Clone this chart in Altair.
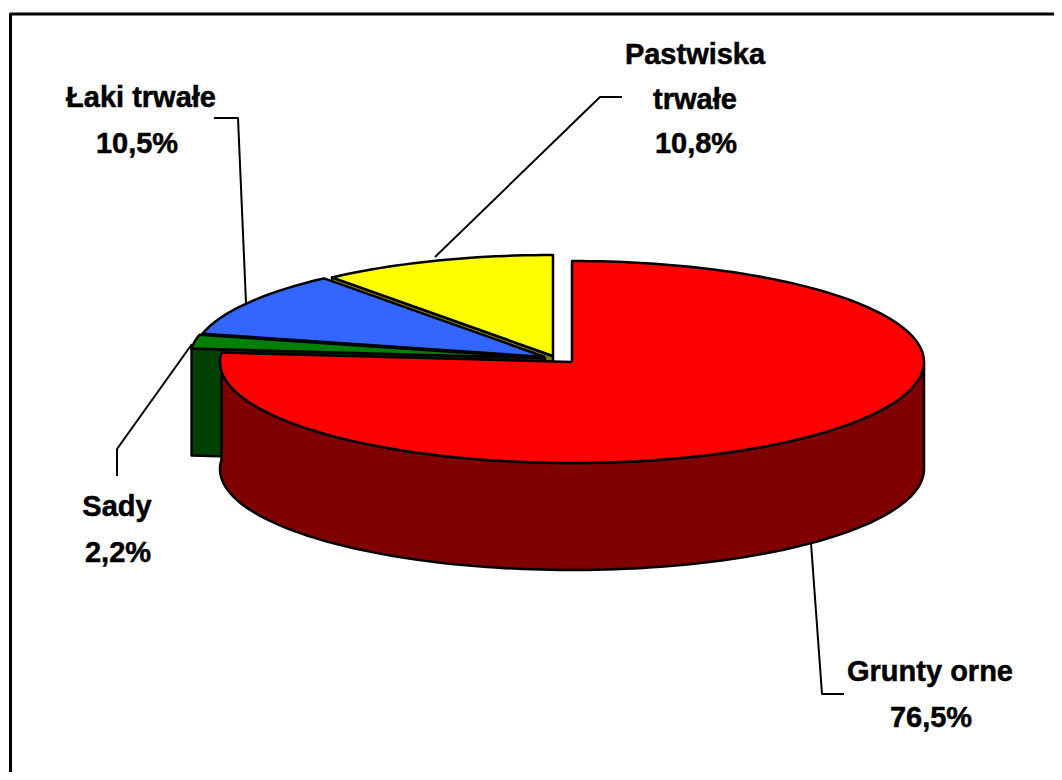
import math
import altair as alt
import pandas as pd

# --- chart values ---
categories = ["Grunty orne", "Sady", "Łaki trwałe", "Pastwiska trwałe"]
shares = [76.5, 2.2, 10.5, 10.8]
top_colors = ["#ff0000", "#008000", "#3366ff", "#ffff00"]
side_colors = ["#800000", "#004000", "#1a3380", "#808000"]
label_lines = [["Grunty orne", "76,5%"], ["Sady", "2,2%"], ["Łaki trwałe", "10,5%"],
               ["Pastwiska", "trwałe", "10,8%"]]

# --- layout ---
X0, Y0, W, H = 8, 8, 1046, 764
RX, RY, DEPTH = 352, 101, 107
centers = [(572, 362), (542, 358), (545, 357), (553, 356)]
label_pos = [
    [(930, 672), (931, 718)],
    [(117, 507), (118, 553)],
    [(141, 98), (137, 144)],
    [(695, 55), (695, 100), (696, 144)],
]
leaders = [
    [(811, 543), (822, 694), (844, 694)],
    [(117, 476), (117, 449), (192, 344)],
    [(214, 118), (238, 118), (246, 303)],
    [(435, 257), (600, 97), (622, 97)],
]
frame = [(10.5, 772), (10.5, 14), (1054, 14)]
FONT = "Liberation Sans"
FONT_SIZE = 29

xs = alt.X("x:Q", scale=alt.Scale(domain=[X0, X0 + W]), axis=None)
ys = alt.Y("y:Q", scale=alt.Scale(domain=[Y0 + H, Y0]), axis=None)


def poly(points, fill=None, sw=2.5):
    df = pd.DataFrame([{"x": p[0], "y": p[1], "i": i} for i, p in enumerate(points)])
    kw = dict(stroke="black", strokeWidth=sw, strokeJoin="round", clip=False, interpolate="linear")
    if fill:
        kw["fill"] = fill
    return alt.Chart(df).mark_line(**kw).encode(x=xs, y=ys, order=alt.Order("i:Q"))


def arc(c, a0, a1, dy=0):
    n = max(2, int(abs(a1 - a0) / 1.5))
    out = []
    for k in range(n + 1):
        a = math.radians(a0 + (a1 - a0) * k / n)
        out.append((c[0] + RX * math.sin(a), c[1] - RY * math.cos(a) + dy))
    return out


layers = []
cum = 0
spans = []
for s in shares:
    spans.append((cum * 3.6, (cum + s) * 3.6))
    cum += s

# painted back to front: Pastwiska, Łaki, Sady, Grunty
for i in [3, 2, 1, 0]:
    c = centers[i]
    a0, a1 = spans[i]
    if i == 0:
        front = arc(c, 90, a1)
        wall = front + [(p[0], p[1] + DEPTH) for p in reversed(front)]
    else:
        start = arc(c, a0, a0, 0)[0]
        rim = arc(c, a0, 270) if a0 < 270 else [start]
        wall = [c] + rim + [(p[0], p[1] + DEPTH) for p in reversed(rim)] + [(c[0], c[1] + DEPTH), c]
    layers.append(poly(wall + [wall[0]], side_colors[i]))
    top = [c] + arc(c, a0, a1) + [c]
    layers.append(poly(top, top_colors[i]))

for pts in leaders:
    layers.append(poly(pts, None, 2))
layers.append(poly(frame, None, 3))

rows = []
for lines, positions in zip(label_lines, label_pos):
    for t, (px, py) in zip(lines, positions):
        rows.append({"t": t, "x": px, "y": py})
layers.append(
    alt.Chart(pd.DataFrame(rows))
    .mark_text(font=FONT, fontSize=FONT_SIZE, fontWeight="bold", color="black", stroke="black",
               strokeWidth=0.5, align="center", baseline="middle")
    .encode(x=xs, y=ys, text="t:N")
)

chart = (
    alt.layer(*layers)
    .properties(width=W, height=H, padding=0, background="white", autosize=alt.AutoSizeParams(type="none"))
    .configure_view(stroke=None)
)
chart.save("out.html", embed_options={"renderer": "svg", "actions": False})
